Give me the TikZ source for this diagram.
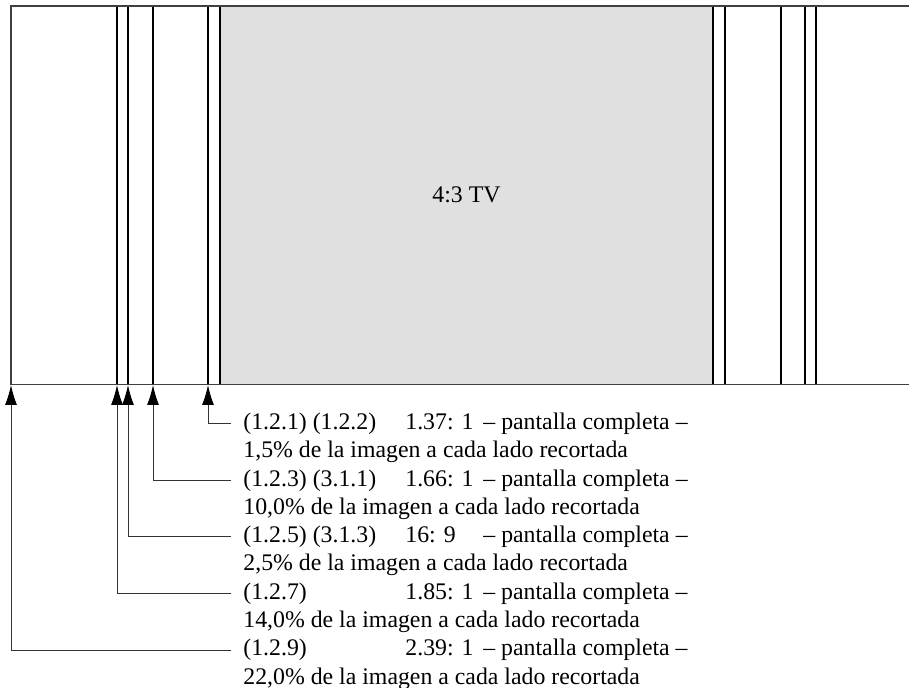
\documentclass[tikz,border=0pt]{standalone}
\usepackage{fontspec}
\setmainfont{Liberation Serif}
\usetikzlibrary{arrows.meta}
\definecolor{tvgray}{HTML}{E0E0E0}
\newcommand\labrowx[2]{\makebox[81pt][l]{#1}\makebox[39pt][l]{#2}– pantalla completa –}
\begin{document}
\begin{tikzpicture}[x=0.5pt,y=-0.5pt,
  frame/.style={line width=0.6pt,draw=black!75},
  bar/.style={line width=1pt,draw=black},
  conn/.style={line width=0.5pt,draw=black!80,-{Latex[length=10pt,width=6pt,fill=black,color=black]}},
  lab/.style={inner sep=0pt,anchor=base west,font=\fontsize{11.9pt}{14.15pt}\selectfont},
  ]
\useasboundingbox (0,0) rectangle (909,688);
\fill[tvgray] (220,6) rectangle (713,384.5);
\foreach \x in {117,128,153,208,220,713,725,781,805,816}
  \draw[bar] (\x,6) -- (\x,384.5);
\draw[frame] (909,6) -- (11,6) -- (11,384.5) -- (909,384.5);
\node[lab,anchor=center] (tv) at (466.5,195) {4:3 TV};
\coordinate (t1) at (208,385);
\coordinate (t2) at (153,385);
\coordinate (t3) at (128,385);
\coordinate (t4) at (117,385);
\coordinate (t5) at (11,385);
\node[lab] (l1a) at (243,429.5) {\labrowx{(1.2.1) (1.2.2)}{1.37: 1}};
\node[lab] (l1b) at (243,457.8) {1,5\% de la imagen a cada lado recortada};
\node[lab] (l2a) at (243,486.1) {\labrowx{(1.2.3) (3.1.1)}{1.66: 1}};
\node[lab] (l2b) at (243,514.4) {10,0\% de la imagen a cada lado recortada};
\node[lab] (l3a) at (243,542.7) {\labrowx{(1.2.5) (3.1.3)}{16: 9}};
\node[lab] (l3b) at (243,571.0) {2,5\% de la imagen a cada lado recortada};
\node[lab] (l4a) at (243,599.3) {\labrowx{(1.2.7)}{1.85: 1}};
\node[lab] (l4b) at (243,627.6) {14,0\% de la imagen a cada lado recortada};
\node[lab] (l5a) at (243,655.9) {\labrowx{(1.2.9)}{2.39: 1}};
\node[lab] (l5b) at (243,684.2) {22,0\% de la imagen a cada lado recortada};
\foreach \i in {1,...,5}
  \draw[conn] ([xshift=-6pt]l\i a.west) -| (t\i);
\end{tikzpicture}
\end{document}
